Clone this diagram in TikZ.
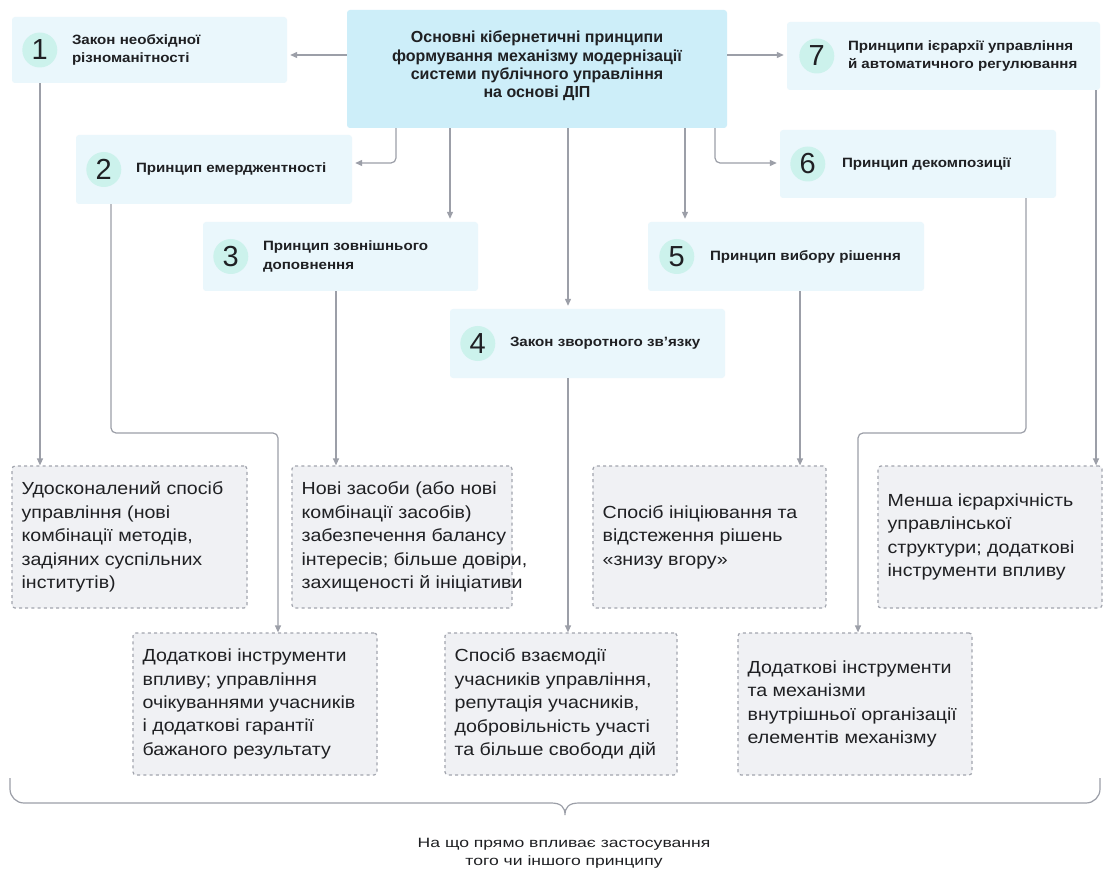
\documentclass[tikz,border=0pt]{standalone}
\usepackage{fontspec}
\setmainfont{Liberation Sans}
\newfontfamily\widefont{Liberation Sans}[FakeStretch=1.12]
\newfontfamily\notefont{Liberation Sans}[FakeStretch=1.3]
\usetikzlibrary{arrows.meta,calc}

\definecolor{ink}{HTML}{1F2023}
\definecolor{linec}{HTML}{9C9FA8}
\definecolor{cfill}{HTML}{CDEEF9}
\definecolor{pfill}{HTML}{EAF7FC}
\definecolor{numfill}{HTML}{CCF2EC}
\definecolor{rfill}{HTML}{F0F1F4}
\definecolor{dashc}{HTML}{A2A5AE}

\tikzset{
  cbox/.style={fill=cfill, rounded corners=3pt, inner sep=0pt},
  pbox/.style={fill=pfill, rounded corners=3pt, inner sep=0pt},
  num/.style={circle, fill=numfill, minimum size=35pt, inner sep=0pt,
    font=\fontsize{29}{29}\selectfont, text=ink},
  ptext/.style={anchor=west, align=left, inner sep=0pt, text=ink,
    font=\widefont\fontsize{13.5}{18.5}\selectfont\bfseries},
  rbox/.style={draw=dashc, dash pattern=on 3pt off 3.2pt, line width=1.2pt,
    fill=rfill, rounded corners=3pt, inner sep=0pt},
  rtext/.style={anchor=west, align=left, inner sep=0pt, text=ink,
    font=\widefont\fontsize{17.5}{23.4}\selectfont},
  arr/.style={draw=linec, line width=1.2pt, rounded corners=5pt,
    -{Triangle[length=7pt,width=6pt]}},
  brace/.style={draw=linec, line width=1.2pt},
}

\begin{document}
\begin{tikzpicture}[x=1pt,y=-1pt]
\useasboundingbox (0,0) rectangle (1105,874);
\fill[white] (0,0) rectangle (1105,874);

% central box
\node[cbox, minimum width=380pt, minimum height=118pt] (C) at (537,69) {};
\node[align=center, inner sep=0pt, text=ink,
  font=\fontsize{16}{18.2}\selectfont\bfseries] (Ct) at (537,66)
  {Основні кібернетичні принципи\\формування механізму модернізації\\системи публічного управління\\на основі ДІП};

% principle boxes
\node[pbox, minimum width=275pt, minimum height=66pt] (B1) at (149.5,50) {};
\node[num] (N1) at ($(B1.west)+(28,0)$) {1};
\node[ptext] (T1) at ($(B1.west)+(60,0)$) {Закон необхідної\\різноманітності};

\node[pbox, minimum width=276pt, minimum height=69pt] (B2) at (214,169.5) {};
\node[num] (N2) at ($(B2.west)+(28,0)$) {2};
\node[ptext] (T2) at ($(B2.west)+(60,0)$) {Принцип емерджентності};

\node[pbox, minimum width=275pt, minimum height=69pt] (B3) at (340.5,256.5) {};
\node[num] (N3) at ($(B3.west)+(28,0)$) {3};
\node[ptext] (T3) at ($(B3.west)+(60,0)$) {Принцип зовнішнього\\доповнення};

\node[pbox, minimum width=275pt, minimum height=69pt] (B4) at (587.5,343.5) {};
\node[num] (N4) at ($(B4.west)+(28,0)$) {4};
\node[ptext] (T4) at ($(B4.west)+(60,0)$) {Закон зворотного зв’язку};

\node[pbox, minimum width=276pt, minimum height=69pt] (B5) at (786,256.5) {};
\node[num] (N5) at ($(B5.west)+(29,0)$) {5};
\node[ptext] (T5) at ($(B5.west)+(62,0)$) {Принцип вибору рішення};

\node[pbox, minimum width=276pt, minimum height=68pt] (B6) at (918,164) {};
\node[num] (N6) at ($(B6.west)+(28,0)$) {6};
\node[ptext] (T6) at ($(B6.west)+(62,0)$) {Принцип декомпозиції};

\node[pbox, minimum width=313pt, minimum height=68pt] (B7) at (943.5,56) {};
\node[num] (N7) at ($(B7.west)+(30,0)$) {7};
\node[ptext] (T7) at ($(B7.west)+(61,0)$) {Принципи ієрархії управління\\й автоматичного регулювання};

% result boxes
\node[rbox, minimum width=235pt, minimum height=142pt] (R1) at (129.5,537) {};
\node[rtext] (R1t) at ($(R1.west)+(10,0)$) {Удосконалений спосіб\\управління (нові\\комбінації методів,\\задіяних суспільних\\інститутів)};

\node[rbox, minimum width=220pt, minimum height=142pt] (R3) at (402,537) {};
\node[rtext] (R3t) at ($(R3.west)+(10,0)$) {Нові засоби (або нові\\комбінації засобів)\\забезпечення балансу\\інтересів; більше довіри,\\захищеності й ініціативи};

\node[rbox, minimum width=233pt, minimum height=142pt] (R5) at (709.5,537) {};
\node[rtext] (R5t) at ($(R5.west)+(10,0)$) {Спосіб ініціювання та\\відстеження рішень\\«знизу вгору»};

\node[rbox, minimum width=224pt, minimum height=142pt] (R7) at (990,537) {};
\node[rtext] (R7t) at ($(R7.west)+(10,0)$) {Менша ієрархічність\\управлінської\\структури; додаткові\\інструменти впливу};

\node[rbox, minimum width=244pt, minimum height=142pt] (R2) at (255,704) {};
\node[rtext] (R2t) at ($(R2.west)+(10,0)$) {Додаткові інструменти\\впливу; управління\\очікуваннями учасників\\і додаткові гарантії\\бажаного результату};

\node[rbox, minimum width=232pt, minimum height=142pt] (R4) at (561,704) {};
\node[rtext] (R4t) at ($(R4.west)+(10,0)$) {Спосіб взаємодії\\учасників управління,\\репутація учасників,\\добровільність участі\\та більше свободи дій};

\node[rbox, minimum width=234pt, minimum height=142pt] (R6) at (855,704) {};
\node[rtext] (R6t) at ($(R6.west)+(10,0)$) {Додаткові інструменти\\та механізми\\внутрішньої організації\\елементів механізму};

% routing columns and rows
\coordinate (xa) at (396,0);
\coordinate (xb) at (450,0);
\coordinate (xc) at (568,0);
\coordinate (xd) at (685,0);
\coordinate (xe) at (715,0);
\coordinate (ytop) at (0,55);
\coordinate (ymid) at (0,163);
\coordinate (ylow) at (0,433);
\coordinate (r1) at (40,0);
\coordinate (r2a) at (111,0);
\coordinate (r2b) at (278,0);
\coordinate (r3) at (336,0);
\coordinate (r5) at (800,0);
\coordinate (r6a) at (1026,0);
\coordinate (r6b) at (858,0);
\coordinate (r7) at (1096,0);

% central box to principles
\draw[arr, shorten >=3pt] (C.west |- ytop) -- (B1.east |- ytop);
\draw[arr, shorten >=3pt] (C.east |- ytop) -- (B7.west |- ytop);
\draw[arr, shorten >=3pt] (C.south -| xa) |- (B2.east |- ymid);
\draw[arr, shorten >=3pt] (C.south -| xb) -- (B3.north -| xb);
\draw[arr, shorten >=3pt] (C.south -| xc) -- (B4.north -| xc);
\draw[arr, shorten >=3pt] (C.south -| xd) -- (B5.north -| xd);
\draw[arr, shorten >=3pt] (C.south -| xe) |- (B6.west |- ymid);

% principles to results
\draw[arr] (B1.south -| r1) -- (R1.north -| r1);
\draw[arr] (B2.south -| r2a) |- (r2b |- ylow) -- (R2.north -| r2b);
\draw[arr] (B3.south -| r3) -- (R3.north -| r3);
\draw[arr] (B4.south -| xc) -- (R4.north -| xc);
\draw[arr] (B5.south -| r5) -- (R5.north -| r5);
\draw[arr] (B6.south -| r6a) |- (r6b |- ylow) -- (R6.north -| r6b);
\draw[arr] (B7.south -| r7) -- (R7.north -| r7);

% brace under all results
\draw[brace] (10,778) -- (10,789) to[out=-90,in=180] (24,803) -- (551,803)
  .. controls (561,803) and (565,807) .. (565,815)
  .. controls (565,807) and (569,803) .. (579,803) -- (1086,803)
  to[out=0,in=-90] (1100,789) -- (1100,778);

\node[align=center, inner sep=0pt, text=ink,
  font=\notefont\fontsize{13.5}{18}\selectfont] (note) at (564,853)
  {На що прямо впливає застосування\\того чи іншого принципу};
\end{tikzpicture}
\end{document}
